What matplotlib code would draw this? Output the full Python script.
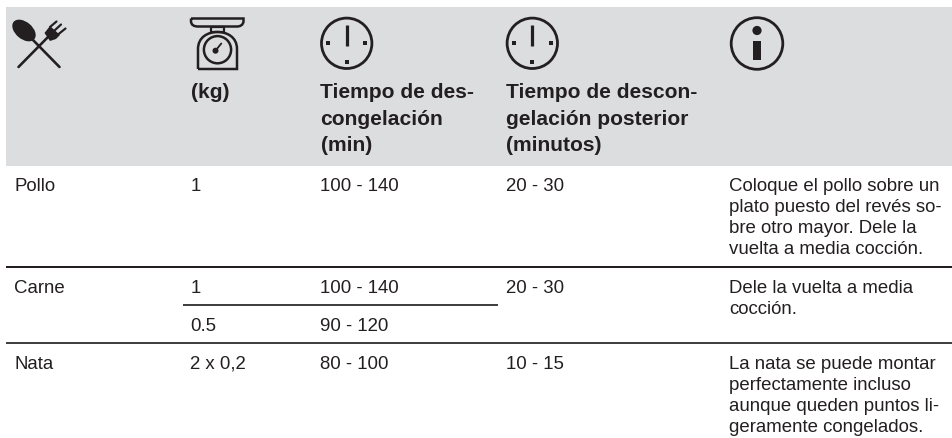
import matplotlib
matplotlib.use('Agg')
import matplotlib.pyplot as plt
from matplotlib.patches import Rectangle, Circle, Ellipse, PathPatch
from matplotlib.path import Path

#----------------------------------------------------------------data

foods = ['Pollo', 'Carne', 'Nata']
weights = ['1', '1', '0.5', '2 x 0,2']
thaw_times = ['100 - 140', '100 - 140', '90 - 120', '80 - 100']
rest_times = ['20 - 30', '20 - 30', '10 - 15']
notes = [
    ['Coloque el pollo sobre un', 'plato puesto del revés so-', 'bre otro mayor. Dele la', 'vuelta a media cocción.'],
    ['Dele la vuelta a media', 'cocción.'],
    ['La nata se puede montar', 'perfectamente incluso', 'aunque queden puntos li-', 'geramente congelados.'],
]
head_weight = ['(kg)']
head_thaw = ['Tiempo de des-', 'congelación', '(min)']
head_rest = ['Tiempo de descon-', 'gelación posterior', '(minutos)']

#----------------------------------------------------------------layout

INK = '#231f20'
GREY = '#dcddde'
COL_X = [14, 190.5, 320.5, 506, 729]
FOOD_Y = [190.8, 292.8, 368.8]
WEIGHT_Y = [190.8, 292.8, 330.8, 368.8]
REST_Y = [190.8, 292.8, 368.8]
HEAD_Y = [97.8, 124.8, 150.8]
BODY_STEP = 21
BODY_SIZE = 13.4
HEAD_SIZE = 15.1

plt.rcParams['font.family'] = ['Liberation Sans', 'DejaVu Sans']

fig = plt.figure(figsize=(9.52, 4.39), dpi=100)
ax = fig.add_axes([0, 0, 1, 1])
ax.set_xlim(0, 952)
ax.set_ylim(439, 0)
ax.axis('off')


def line(x0, y0, x1, y1, lw=1.0, cap='round'):
    # lw comes in pixels
    ax.plot([x0, x1], [y0, y1], color=INK, lw=lw * 0.72, solid_capstyle=cap)


def body(x, y, s, size=BODY_SIZE, weight='normal'):
    ax.text(x, y, s, fontsize=size, color=INK, va='baseline', ha='left', fontweight=weight)


def clock(cx, cy):
    ax.add_patch(Circle((cx, cy), 25.2, fc='none', ec=INK, lw=2.0))
    line(cx, cy - 18, cx, cy + 3, lw=3.2, cap='butt')
    for dx, dy in [(-18.3, 0), (18.3, 0), (0, 18.3)]:
        ax.add_patch(Rectangle((cx + dx - 2, cy + dy - 2), 4, 4, fc=INK, ec='none'))


def outline(verts, codes):
    ax.add_patch(PathPatch(Path(verts, codes), fc='none', ec=INK, lw=1.8))


M, L, C = Path.MOVETO, Path.LINETO, Path.CURVE4

#----------------------------------------------------------------header and rules

ax.add_patch(Rectangle((6, 8.3), 946, 158.4, fc=GREY, ec='none'))
line(6, 268, 952, 268, lw=2.0, cap='butt')
line(183, 306, 498, 306, lw=1.7, cap='butt')
line(6, 344, 952, 344, lw=1.7, cap='butt')

#----------------------------------------------------------------icons

# spoon and fork
ax.add_patch(Ellipse((24, 31.5), 27, 17, angle=40, fc=INK, ec='none'))
line(33, 41, 59.5, 68, lw=2.6)
line(18.5, 68, 48, 38, lw=2.6)
ax.fill([44.5, 50, 60, 56, 50], [34, 27, 36, 40, 42], fc=INK, ec='none')
line(50, 28, 56.5, 22.5, lw=2.2)
line(54, 32, 61, 25.5, lw=2.2)
line(58, 35.5, 65.5, 29.5, lw=2.2)

# scale
outline([(191, 19.5), (243.5, 19.5), (243.5, 22), (243.5, 26), (240, 27.5), (237, 27.5),
         (198, 27.5), (194, 27.5), (191, 26), (191, 22), (191, 19.5)],
        [M, L, L, C, C, C, L, C, C, C, L])
outline([(198, 70), (198, 50), (198, 38), (208, 33), (217.5, 33), (227, 33), (237, 38), (237, 50), (237, 70), (198, 70)],
        [M, L, C, C, C, C, C, C, L, L])
ax.add_patch(Rectangle((211, 27.5), 13, 5.5, fc='none', ec=INK, lw=1.6))
ax.add_patch(Circle((217.5, 50.7), 13.6, fc='none', ec=INK, lw=1.8))
ax.add_patch(Circle((215.5, 51.7), 3.0, fc=INK, ec='none'))
line(216, 51, 221.3, 44.5, lw=1.8)

clock(346.7, 44.3)
clock(532.3, 44.3)

# info
ax.add_patch(Circle((757, 44.5), 25.8, fc='none', ec=INK, lw=2.0))
ax.add_patch(Circle((757, 31.5), 4.6, fc=INK, ec='none'))
ax.add_patch(Rectangle((753.3, 41.5), 7.4, 19.5, fc=INK, ec='none'))

#----------------------------------------------------------------text

for s, y in zip(head_weight, HEAD_Y):
    body(COL_X[1], y, s, HEAD_SIZE, 'bold')
for s, y in zip(head_thaw, HEAD_Y):
    body(COL_X[2], y, s, HEAD_SIZE, 'bold')
for s, y in zip(head_rest, HEAD_Y):
    body(COL_X[3], y, s, HEAD_SIZE, 'bold')

for s, y in zip(foods, FOOD_Y):
    body(COL_X[0], y, s)
for s, y in zip(weights, WEIGHT_Y):
    body(COL_X[1], y, s)
for s, y in zip(thaw_times, WEIGHT_Y):
    body(COL_X[2], y, s)
for s, y in zip(rest_times, REST_Y):
    body(COL_X[3], y, s)
for block, y in zip(notes, REST_Y):
    for i, s in enumerate(block):
        body(COL_X[4], y + i * BODY_STEP, s)

fig.savefig('out.png', dpi=100)
